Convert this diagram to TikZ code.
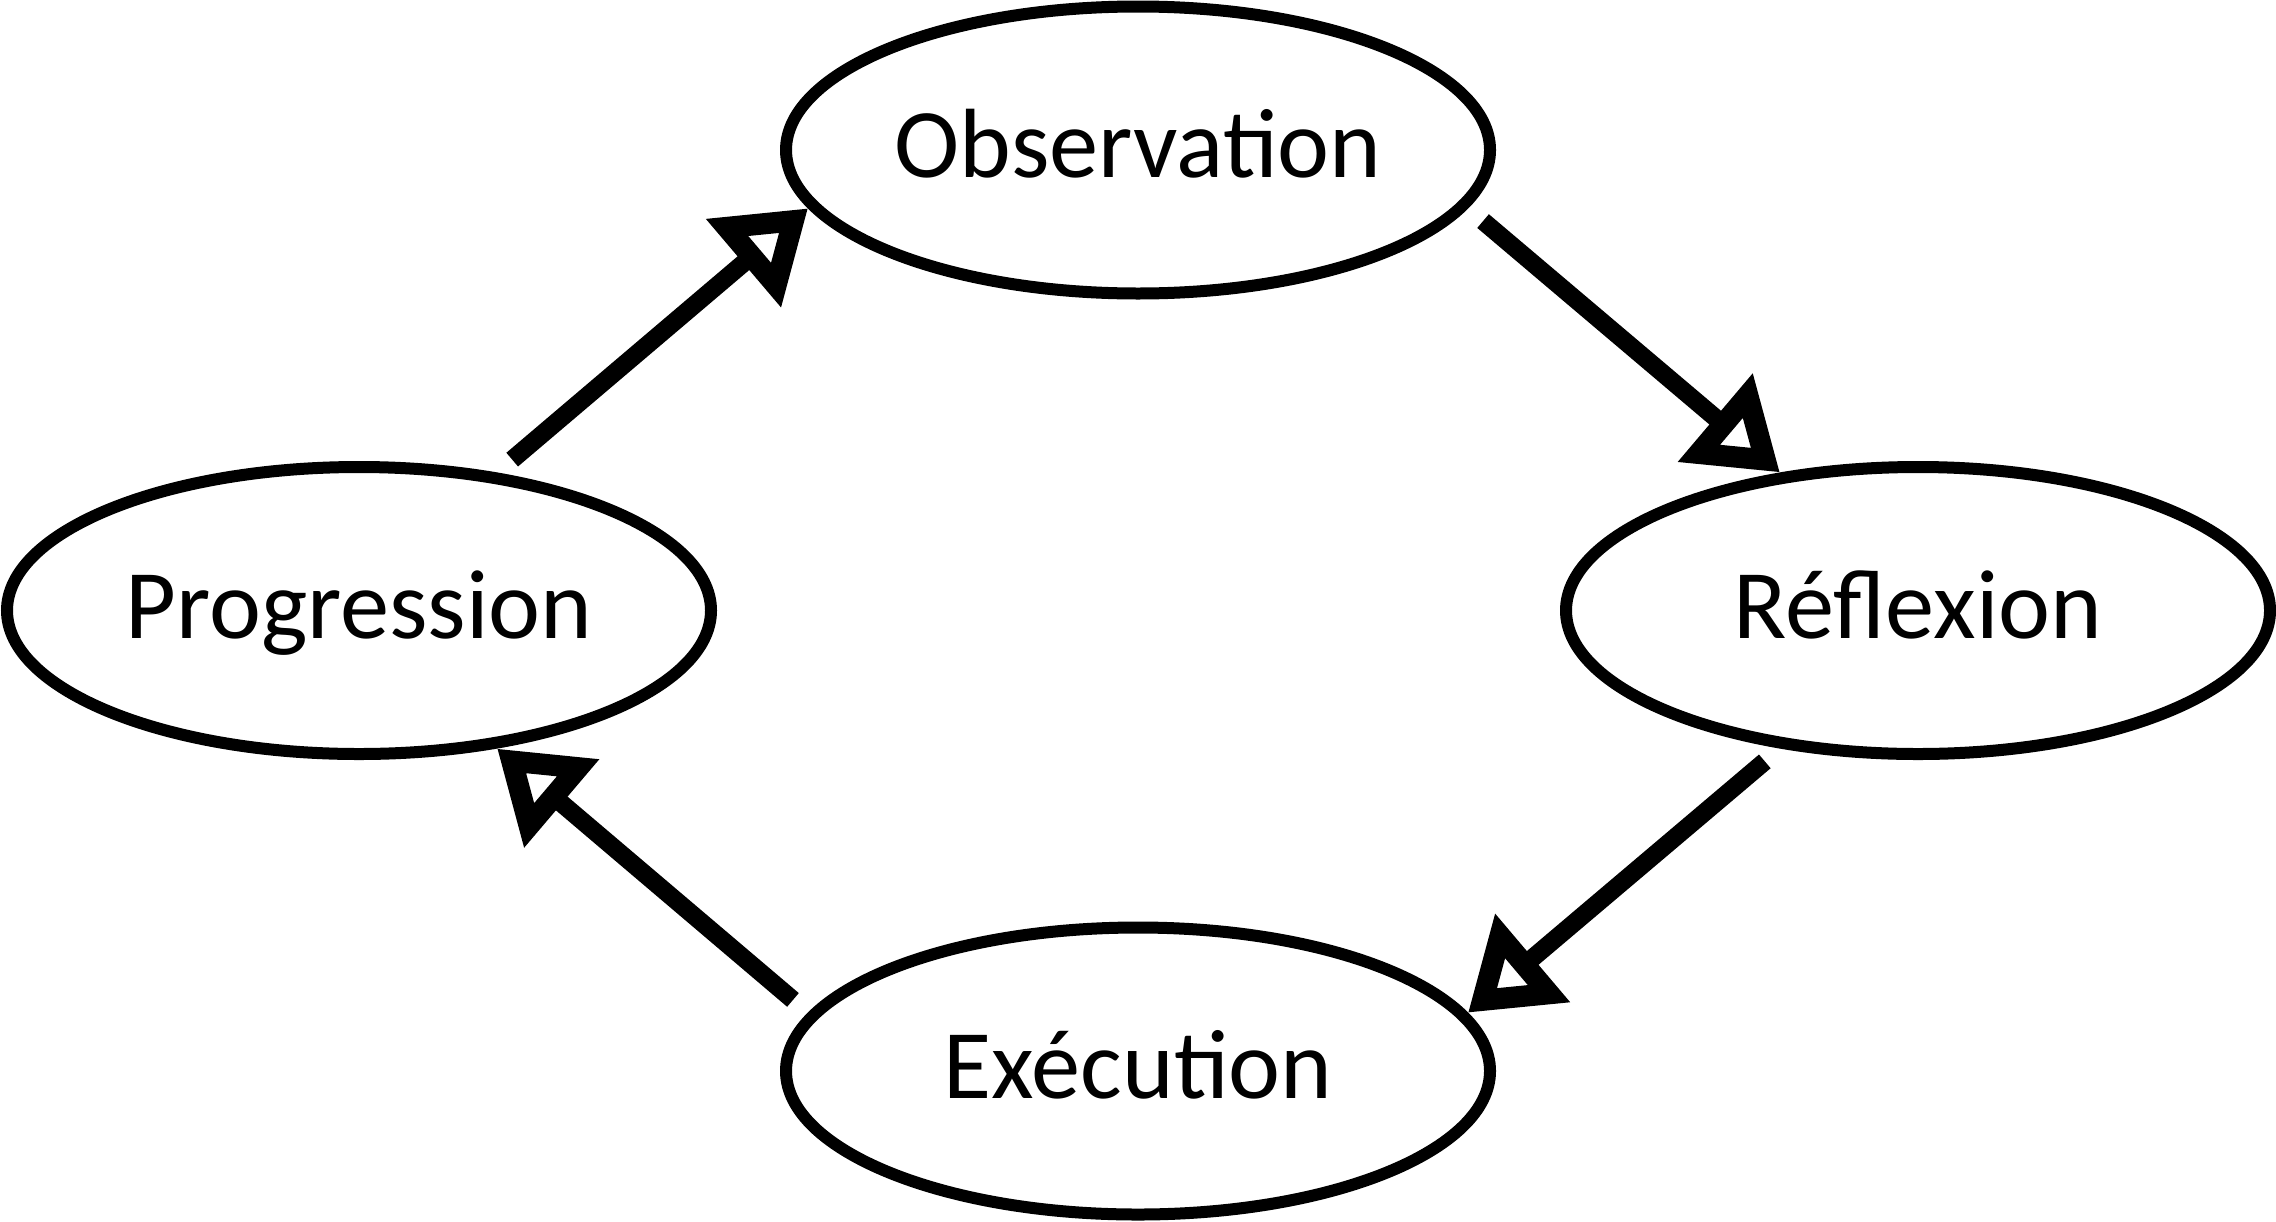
\documentclass[tikz,border=0pt]{standalone}
\usepackage{fontspec}
\setmainfont{Carlito}
\usetikzlibrary{shapes.geometric,arrows.meta}

\tikzset{
  etape/.style={ellipse,draw,line width=0.12cm,minimum width=7.04cm,minimum height=2.87cm,inner sep=0pt,text height=0.6cm,text depth=0.045cm,font=\fontsize{28}{34}\selectfont},
  fleche/.style={-{Triangle[open,length=0.85cm,width=1.1cm,line width=0.36cm]},line width=0.18cm,shorten <=0.2cm}
}

\begin{document}
\begin{tikzpicture}
\useasboundingbox (0,0) rectangle (22.76,-12.21);
\node[etape] (obs) at (11.38,-1.50) {Observation};
\node[etape] (prog) at (3.59,-6.105) {Progression};
\node[etape] (refl) at (19.18,-6.105) {Réflexion};
\node[etape] (exec) at (11.38,-10.71) {Exécution};
\draw[fleche] (prog.45) -- (obs.190);
\draw[fleche] (obs.-10) -- (refl.135);
\draw[fleche] (refl.225) -- (exec.10);
\draw[fleche] (exec.170) -- (prog.-45);
\end{tikzpicture}
\end{document}
